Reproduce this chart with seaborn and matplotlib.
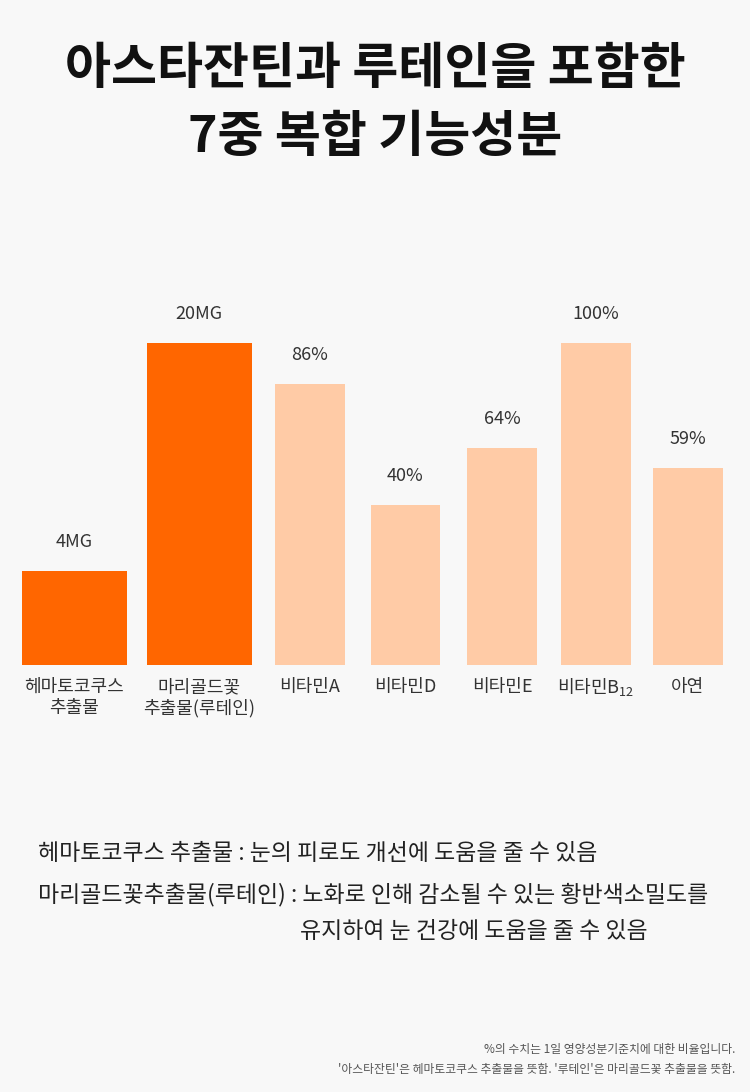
import matplotlib
matplotlib.use('Agg')
import matplotlib.pyplot as plt
import seaborn as sns
import pandas as pd

# Data
names = ['헤마토코쿠스\n추출물', '마리골드꽃\n추출물(루테인)', '비타민A', '비타민D', '비타민E', '비타민B$_{12}$', '아연']
heights = [29.2, 100, 87.3, 49.7, 67.4, 100, 61.2]   # drawn bar heights (max = 100)
value_labels = ['4MG', '20MG', '86%', '40%', '64%', '100%', '59%']
groups = ['extract', 'extract', 'vitamin', 'vitamin', 'vitamin', 'vitamin', 'vitamin']

# Layout (pixel units of the 750px wide canvas)
centers = [74, 199, 310, 405, 502, 596, 688]
widths = [105, 105, 70, 69, 70, 70, 70]

DARK = '#FF6600'
LIGHT = '#FFCBA6'
BG = '#F8F8F8'

sns.set_theme(style='white')
plt.rcParams['font.family'] = ['Noto Sans CJK KR', 'DejaVu Sans']
plt.rcParams['mathtext.fontset'] = 'custom'
plt.rcParams['mathtext.rm'] = 'Noto Sans CJK KR'
plt.rcParams['mathtext.it'] = 'Noto Sans CJK KR'
plt.rcParams['mathtext.default'] = 'rm'

W, H = 750, 1092
fig = plt.figure(figsize=(W / 100, H / 100), dpi=100, facecolor=BG)


def fy(px):
    return 1 - px / H


base_px = 665
top_px = 343
ax = fig.add_axes([0, fy(base_px), 1, (base_px - top_px) / H])
ax.set_facecolor(BG)

df = pd.DataFrame({'name': names, 'height': heights, 'group': groups})
colors = [DARK if g == 'extract' else LIGHT for g in groups]
sns.barplot(data=df, x='name', y='height', hue='name', palette=colors,
            legend=False, ax=ax, saturation=1, linewidth=0)

# put bars at their positions / widths
patches = sorted(ax.patches, key=lambda p: p.get_x())
for p, cx, w in zip(patches, centers, widths):
    p.set_x(cx - w / 2)
    p.set_width(w)

ax.set_xlim(0, W)
ax.set_ylim(0, 100)
ax.set_xticks([])
ax.set_yticks([])
ax.set_xlabel('')
ax.set_ylabel('')
for s in ax.spines.values():
    s.set_visible(False)

# value labels above the bars
for cx, h, lab in zip(centers, heights, value_labels):
    ax.annotate(lab, (cx, h), xytext=(0, 21), textcoords='offset points',
                ha='center', va='center', fontsize=13, color='#333333',
                fontweight='light')

# category labels under the bars
for cx, name in zip(centers, names):
    for i, line in enumerate(name.split('\n')):
        fig.text(cx / W, fy(687 + i * 21.5), line, ha='center', va='center',
                 fontsize=13, color='#333333', fontweight='light')

# title
fig.text(0.5, fy(70), '아스타잔틴과 루테인을 포함한', ha='center', va='center',
         fontsize=36, fontweight='bold', color='#111111')
fig.text(0.5, fy(137), '7중 복합 기능성분', ha='center', va='center',
         fontsize=36, fontweight='bold', color='#111111')

# notes
fig.text(38 / W, fy(853), '헤마토코쿠스 추출물 : 눈의 피로도 개선에 도움을 줄 수 있음',
         ha='left', va='center', fontsize=16.5, color='#222222')
fig.text(38 / W, fy(895), '마리골드꽃추출물(루테인) : 노화로 인해 감소될 수 있는 황반색소밀도를',
         ha='left', va='center', fontsize=16.5, color='#222222')
fig.text(300 / W, fy(932), '유지하여 눈 건강에 도움을 줄 수 있음',
         ha='left', va='center', fontsize=16.5, color='#222222')

# footnote
fig.text(735 / W, fy(1050), '%의 수치는 1일 영양성분기준치에 대한 비율입니다.',
         ha='right', va='center', fontsize=8.5, color='#555555')
fig.text(735 / W, fy(1069), "'아스타잔틴'은 헤마토코쿠스 추출물을 뜻함. '루테인'은 마리골드꽃 추출물을 뜻함.",
         ha='right', va='center', fontsize=8.5, color='#555555')

fig.savefig('out.png', dpi=100, facecolor=BG)
